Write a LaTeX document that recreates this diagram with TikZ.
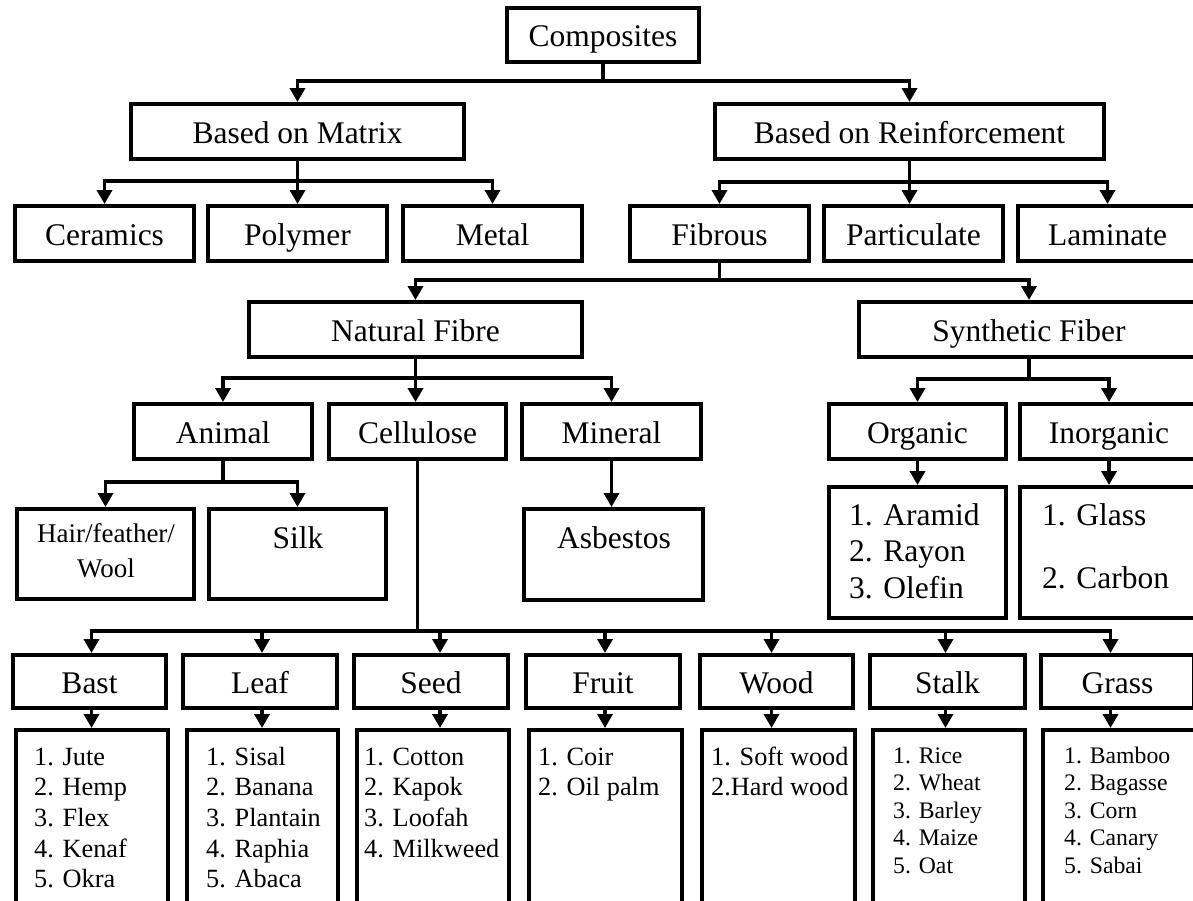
\documentclass[tikz,border=0pt]{standalone}
\usepackage{fontspec}
\setmainfont{Liberation Serif}
\usetikzlibrary{arrows.meta}
\newcommand\fbig{\fontsize{31.5}{36}\selectfont}
\newcommand\fmid{\fontsize{26.3}{30}\selectfont}
\newcommand\fhair{\fontsize{27}{30}\selectfont}
\newcommand\fsm{\fontsize{23.7}{27}\selectfont}
\tikzset{
  box/.style={draw, line width=4pt, inner sep=0pt, text height=23pt, text depth=0pt, font=\fbig},
  conn/.style={line width=3.5pt},
  arr/.style={line width=3.5pt, -{Triangle[width=15pt,length=14pt]}},
  lt/.style={anchor=base west, inner sep=0pt},
  ct/.style={anchor=base, inner sep=0pt},
}
\newcommand\bx[6]{\node[box, minimum width={#4-#2-4}, minimum height={#5-#3-4}] (#1) at ({(#2+#4)/2},{(#3+#5)/2}) {#6};}
\begin{document}
\begin{tikzpicture}[x=1pt,y=-1pt]
\useasboundingbox (0,0) rectangle (1193,900);
\begin{scope}
\clip (0,0) rectangle (1193,900);
% boxes
\bx{comp}{505}{6}{701}{64}{Composites}
\bx{bom}{129}{102}{466}{161}{Based on Matrix}
\bx{bor}{713}{102}{1106}{161}{Based on Reinforcement}
\bx{cer}{13}{204}{196}{263}{Ceramics}
\bx{pol}{206}{204}{389}{263}{Polymer}
\bx{met}{401}{204}{584}{263}{Metal}
\bx{fib}{628}{204}{811}{263}{Fibrous}
\bx{par}{822}{204}{1005}{263}{Particulate}
\bx{lam}{1016}{204}{1199}{263}{Laminate}
\bx{nf}{247}{300}{584}{359}{Natural Fibre}
\bx{syn}{857}{300}{1201}{359}{Synthetic Fiber}
\bx{ani}{132}{402}{314}{461}{Animal}
\bx{cel}{327}{402}{508}{461}{Cellulose}
\bx{min}{520}{402}{703}{461}{Mineral}
\bx{org}{827}{402}{1008}{461}{Organic}
\bx{ino}{1018}{402}{1200}{461}{Inorganic}
\bx{hair}{15}{507}{196}{601}{}
\bx{silk}{207}{507}{388}{601}{}
\bx{asb}{522}{507}{705}{602}{}
\bx{orgl}{827}{485}{1008}{620}{}
\bx{inol}{1018}{485}{1200}{620}{}
\bx{bast}{11}{653}{168}{710}{Bast}
\bx{leaf}{181}{653}{339}{710}{Leaf}
\bx{seed}{352}{653}{510}{710}{Seed}
\bx{fruit}{524}{653}{682}{710}{Fruit}
\bx{wood}{698}{653}{855}{710}{Wood}
\bx{stalk}{868}{653}{1027}{710}{Stalk}
\bx{grass}{1039}{653}{1196}{710}{Grass}
\bx{bastl}{14}{728}{170}{935}{}
\bx{leafl}{185}{728}{340}{935}{}
\bx{seedl}{355}{728}{511}{935}{}
\bx{fruitl}{527}{728}{684}{935}{}
\bx{woodl}{700}{728}{857}{935}{}
\bx{stalkl}{871}{728}{1027}{935}{}
\bx{grassl}{1041}{728}{1200}{935}{}
% texts inside boxes
\node[ct,font=\fhair] (hairt1) at (106,542) {Hair/feather/};
\node[ct,font=\fhair] (hairt2) at (106,577) {Wool};
\node[ct,font=\fbig] (silkt) at (298,548) {Silk};
\node[ct,font=\fbig] (asbt) at (614,548) {Asbestos};
\foreach \t [count=\i] in {1. Aramid,2. Rayon,3. Olefin}
  \node[lt,font=\fbig] (orgt\i) at (849,{525+(\i-1)*36.5}) {\t};
\node[lt,font=\fbig] (inot1) at (1042,525) {1. Glass};
\node[lt,font=\fbig] (inot2) at (1042,588) {2. Carbon};
\foreach \t [count=\i] in {1. Jute,2. Hemp,3. Flex,4. Kenaf,5. Okra}
  \node[lt,font=\fmid] (bastt\i) at (34,{765+(\i-1)*30.7}) {\t};
\foreach \t [count=\i] in {1. Sisal,2. Banana,3. Plantain,4. Raphia,5. Abaca}
  \node[lt,font=\fmid] (leaft\i) at (206,{765+(\i-1)*30.7}) {\t};
\foreach \t [count=\i] in {1. Cotton,2. Kapok,3. Loofah,4. Milkweed}
  \node[lt,font=\fmid] (seedt\i) at (364,{765+(\i-1)*30.7}) {\t};
\foreach \t [count=\i] in {1. Coir,2. Oil palm}
  \node[lt,font=\fmid] (fruitt\i) at (538,{765+(\i-1)*30.7}) {\t};
\foreach \t [count=\i] in {1. Soft wood,2.Hard wood}
  \node[lt,font=\fmid] (woodt\i) at (711,{765+(\i-1)*30.7}) {\t};
\foreach \t [count=\i] in {1. Rice,2. Wheat,3. Barley,4. Maize,5. Oat}
  \node[lt,font=\fsm] (stalkt\i) at (893,{763+(\i-1)*27.5}) {\t};
\foreach \t [count=\i] in {1. Bamboo,2. Bagasse,3. Corn,4. Canary,5. Sabai}
  \node[lt,font=\fsm] (grasst\i) at (1064,{763+(\i-1)*27.5}) {\t};
% connectors
\draw[arr] (comp.south) -- (comp.south |- 0,81) -| (bom.north);
\draw[arr] (comp.south) -- (comp.south |- 0,81) -| (bor.north);
\draw[arr] (bom.south) -- (bom.south |- 0,181) -| (cer.north);
\draw[arr] (bom.south) -- (pol.north);
\draw[arr] (bom.south) -- (bom.south |- 0,181) -| (met.north);
\draw[arr] (bor.south) -- (bor.south |- 0,182) -| (fib.north);
\draw[arr] (bor.south) -- (bor.south |- par.north);
\draw[arr] (bor.south) -- (bor.south |- 0,182) -| (lam.north);
\draw[arr] (fib.south) -- (fib.south |- 0,280) -| (nf.north);
\draw[arr] (fib.south) -- (fib.south |- 0,280) -| (syn.north);
\draw[arr] (nf.south) -- (nf.south |- 0,378) -| (ani.north);
\draw[arr] (nf.south) -- (nf.south |- cel.north);
\draw[arr] (nf.south) -- (nf.south |- 0,378) -| (min.north);
\draw[arr] (syn.south) -- (syn.south |- 0,379) -| (org.north);
\draw[arr] (syn.south) -- (syn.south |- 0,379) -| (ino.north);
\draw[arr] (ani.south) -- (ani.south |- 0,482) -| (hair.north);
\draw[arr] (ani.south) -- (ani.south |- 0,482) -| (silk.north);
\draw[arr] (min.south) -- (min.south |- asb.north);
\draw[arr] (org.south) -- (org.south |- orgl.north);
\draw[arr] (ino.south) -- (ino.south |- inol.north);
\draw[arr] (cel.south) -- (cel.south |- 0,631) -| ([xshift=2pt]bast.north);
\draw[arr] (cel.south) -- (cel.south |- 0,631) -| ([xshift=2pt]leaf.north);
\draw[arr] (cel.south) -- (cel.south |- 0,631) -| ([xshift=9pt]seed.north);
\draw[arr] (cel.south) -- (cel.south |- 0,631) -| ([xshift=2pt]fruit.north);
\draw[arr] (cel.south) -- (cel.south |- 0,631) -| ([xshift=-5pt]wood.north);
\draw[arr] (cel.south) -- (cel.south |- 0,631) -| ([xshift=-2pt]stalk.north);
\draw[arr] (cel.south) -- (cel.south |- 0,631) -| ([xshift=-7pt]grass.north);
\draw[arr] ([xshift=2pt]bast.south) -- ([xshift=2pt]bast.south |- bastl.north);
\draw[arr] ([xshift=2pt]leaf.south) -- ([xshift=2pt]leaf.south |- leafl.north);
\draw[arr] ([xshift=9pt]seed.south) -- ([xshift=9pt]seed.south |- seedl.north);
\draw[arr] ([xshift=2pt]fruit.south) -- ([xshift=2pt]fruit.south |- fruitl.north);
\draw[arr] ([xshift=-5pt]wood.south) -- ([xshift=-5pt]wood.south |- woodl.north);
\draw[arr] ([xshift=-2pt]stalk.south) -- ([xshift=-2pt]stalk.south |- stalkl.north);
\draw[arr] ([xshift=-7pt]grass.south) -- ([xshift=-7pt]grass.south |- grassl.north);
\end{scope}
\end{tikzpicture}
\end{document}
